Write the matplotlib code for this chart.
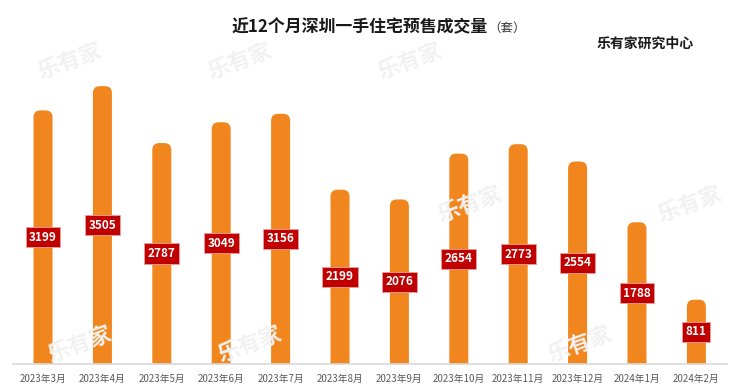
import matplotlib
matplotlib.use('Agg')
import matplotlib.pyplot as plt
from matplotlib.patches import FancyBboxPatch

plt.rcParams['font.family'] = ['Noto Sans CJK SC', 'DejaVu Sans']

# Data
months = ['2023年3月', '2023年4月', '2023年5月', '2023年6月', '2023年7月', '2023年8月',
          '2023年9月', '2023年10月', '2023年11月', '2023年12月', '2024年1月', '2024年2月']
volumes = [3199, 3505, 2787, 3049, 3156, 2199, 2076, 2654, 2773, 2554, 1788, 811]

BAR_COLOR = '#f0861d'
LABEL_BG = '#c00000'
BAR_W = 0.32

fig = plt.figure(figsize=(7.4, 3.92), dpi=100)
ax = fig.add_axes([0.0176, 0.0714, 0.9648, 0.809])
ax.set_xlim(-0.505, 11.515)
ax.set_ylim(0, 4000)

# watermarks
wm = [(70, 62), (240, 62), (410, 62), (470, 205), (690, 205), (80, 345), (250, 345), (580, 345)]
for px, py in wm:
    fig.text(px / 740, 1 - py / 392, '乐有家', fontsize=16, color='#f1f1f1', rotation=20,
             ha='center', va='center', fontweight='bold', zorder=0)

# rounded-top bars
x_per_px = 12.02 / 714
y_per_px = 4000 / 317
r_px = 7
for i, v in enumerate(volumes):
    p = FancyBboxPatch((i - BAR_W / 2, -300), BAR_W, v + 300,
                       boxstyle=f'round,pad=0,rounding_size={r_px * x_per_px}',
                       mutation_aspect=y_per_px / x_per_px,
                       facecolor=BAR_COLOR, edgecolor='none', zorder=2, clip_on=True)
    ax.add_patch(p)
    ax.text(i, v / 2, str(v), ha='center', va='center', fontsize=8.5, color='white',
            fontweight='bold', zorder=3,
            bbox=dict(boxstyle='square,pad=0.3', facecolor=LABEL_BG, edgecolor='#e8a0a0', linewidth=0.6))

ax.set_xticks(range(len(months)))
ax.set_xticklabels(months, fontsize=7, color='#595959')
ax.tick_params(axis='x', length=0, pad=7)
ax.set_yticks([])
for s in ['top', 'right', 'left']:
    ax.spines[s].set_visible(False)
ax.spines['bottom'].set_color('#d9d9d9')
ax.spines['bottom'].set_linewidth(1.2)
ax.patch.set_alpha(0)

fig.text(488 / 740, 1 - 27 / 392, '近12个月深圳一手住宅预售成交量', ha='right', va='center',
         fontsize=12.2, fontweight='bold', color='#1a1a1a')
fig.text(488 / 740, 1 - 28 / 392, '（套）', ha='left', va='center', fontsize=9, color='#333333')
fig.text(645 / 740, 1 - 44 / 392, '乐有家研究中心', ha='center', va='center',
         fontsize=10, fontweight='bold', color='#1a1a1a')

fig.savefig('out.png', dpi=100)
